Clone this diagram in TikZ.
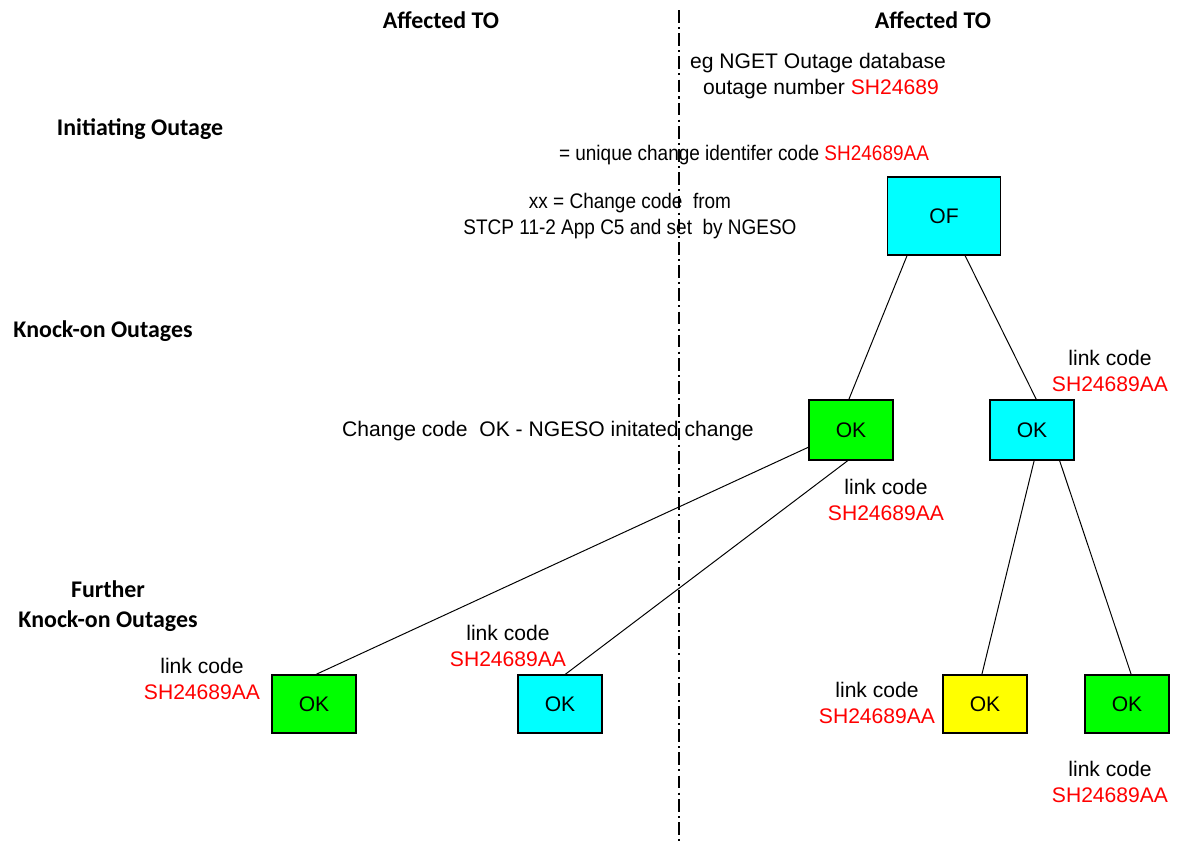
\documentclass[tikz,border=0pt]{standalone}
\usepackage{fontspec}
\setmainfont{Liberation Sans}
\newfontfamily\headfont{Carlito}
\definecolor{ofcyan}{RGB}{0,255,255}
\definecolor{okgreen}{RGB}{0,255,0}
\definecolor{okyellow}{RGB}{255,255,0}
\definecolor{codered}{RGB}{255,0,0}
\tikzset{
  chgbox/.style={draw=black, line width=0.9pt, minimum width=2.1cm, minimum height=1.5cm,
    font=\fontsize{15}{18}\selectfont},
  note/.style={align=center, font=\fontsize{15}{18}\selectfont},
  head/.style={align=center, font=\headfont\bfseries\fontsize{17}{21}\selectfont},
  link/.style={line width=0.7pt},
}
\newcommand{\code}[1]{\textcolor{codered}{#1}}
\newcommand{\narrowtxt}[1]{\scalebox{0.9}[1]{#1}}
\begin{document}
\begin{tikzpicture}[x=0.025cm,y=-0.025cm]
  \useasboundingbox (0,0) rectangle (1184,844);

  %% boundary between the two TOs
  \coordinate (divtop) at (679,10);
  \coordinate (divbot) at (679,844);
  \draw [line width=1.5pt, dash pattern=on 9pt off 3pt on 1.5pt off 3pt] (divtop) -- (divbot);

  \node [head] (toleft) at (441,20) {Affected TO};
  \node [head] (toright) at (933,20) {Affected TO};
  \node [head] (initiating) at (140,129) {Initiating Outage};
  \node [head] (knockon) at (103,331) {Knock-on Outages};
  \node [head] (further) at (108,606) {Further\\ Knock-on Outages};

  %% boxes
  \node [chgbox, fill=ofcyan, minimum width=2.83cm, minimum height=1.95cm] (of) at (944,216) {OF};
  \node [chgbox, fill=okgreen] (kog) at (851,430) {OK};
  \node [chgbox, fill=ofcyan] (koc) at (1032,430) {OK};
  \node [chgbox, fill=okgreen, minimum height=1.45cm] (fa) at (314,704) {OK};
  \node [chgbox, fill=ofcyan, minimum height=1.45cm] (fb) at (560,704) {OK};
  \node [chgbox, fill=okyellow, minimum height=1.45cm] (fc) at (985,704) {OK};
  \node [chgbox, fill=okgreen, minimum height=1.45cm] (fd) at (1127,704) {OK};

  %% notes
  \node [note] (dbnote) at (818,76) {eg NGET Outage database\\ \ outage number \code{SH24689}};
  \node [note] (uniq) at (744,155) {\narrowtxt{= unique change identifer code \code{SH24689AA}}};
  \node [note] (xxnote) at (630,216) {\narrowtxt{xx = Change code\ \ from}\\ \narrowtxt{STCP 11-2 App C5 and set\ \ by NGESO}};
  \node [note] (oknote) at (548,431) {Change code\ \ OK - NGESO initated change};
  \node [note] (lkoc) at (1110,371) {link code\\ \code{SH24689AA}};
  \node [note] (lkog) at (886,500) {link code\\ \code{SH24689AA}};
  \node [note] (lfa) at (202,679) {link code\\ \code{SH24689AA}};
  \node [note] (lfb) at (508,646) {link code\\ \code{SH24689AA}};
  \node [note] (lfc) at (877,703) {link code\\ \code{SH24689AA}};
  \node [note] (lfd) at (1110,782) {link code\\ \code{SH24689AA}};

  %% links
  \draw [link] (of.-133) -- (kog.94);
  \draw [link] (of.-62) -- (koc.82);
  \draw [link] (kog.-158) -- (fa.86);
  \draw [link] (kog.-96) -- (fb.80);
  \draw [link] (koc.-86) -- (fc.96);
  \draw [link] (koc.-48) -- (fd.82);
\end{tikzpicture}
\end{document}
